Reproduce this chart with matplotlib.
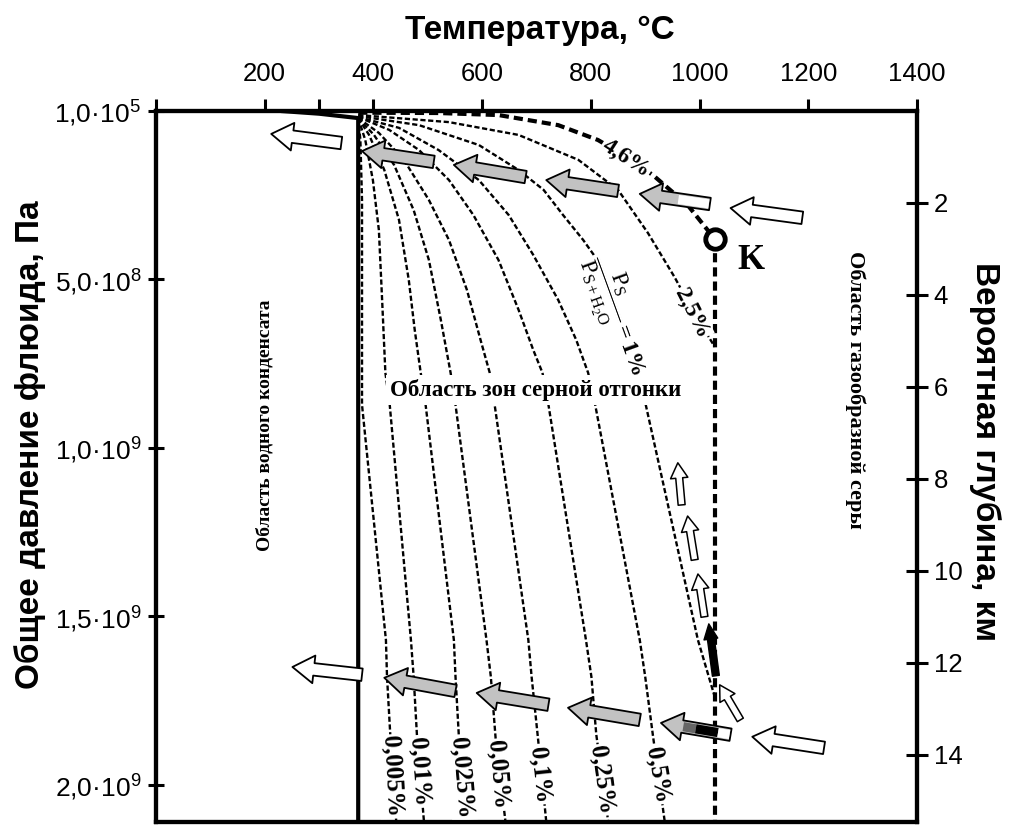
import matplotlib
matplotlib.use('Agg')
import matplotlib.pyplot as plt

plt.rcParams['font.family'] = ['Liberation Sans', 'DejaVu Sans']
plt.rcParams['mathtext.fontset'] = 'custom'
plt.rcParams['mathtext.rm'] = 'Liberation Serif'
plt.rcParams['mathtext.it'] = 'Liberation Serif:italic'
plt.rcParams['mathtext.bf'] = 'Liberation Serif:bold'

SERIF = ['Liberation Serif', 'DejaVu Serif']

# ---------------- data ----------------
P_MAX = 21.1            # pressure, units of 1e8 Pa (bottom edge)
KM_PER_P = 1.365        # 1 km of depth = 1.365e8 Pa on this chart

temp_ticks = [0, 200, 300, 400, 600, 800, 1000, 1200, 1400]
temp_labels = ['', '200', '', '400', '600', '800', '1000', '1200', '1400']
press_ticks = [0, 5, 10, 15, 20]
press_labels = [r'$\mathregular{1{,}0·10^{5}}$', r'$\mathregular{5{,}0·10^{8}}$',
                r'$\mathregular{1{,}0·10^{9}}$', r'$\mathregular{1{,}5·10^{9}}$',
                r'$\mathregular{2{,}0·10^{9}}$']
depth_ticks = [2, 4, 6, 8, 10, 12, 14]

water_T = [230, 300, 372, 372]
water_P = [0.0, 0.08, 0.21, 21.1]

c0005_T = [372, 376, 379, 379, 379, 423, 425, 431, 442]
c0005_P = [0.21, 0.86, 2.64, 5.61, 8.72, 15.70, 16.79, 18.51, 21.10]
c001_T = [372, 385, 399, 410, 416, 422, 430, 469, 474, 480, 493]
c001_P = [0.21, 0.86, 2.05, 3.53, 5.61, 7.77, 8.72, 15.70, 16.79, 18.51, 21.10]
c0025_T = [372, 392, 420, 447, 465, 476, 487, 496, 548, 551, 557, 570]
c0025_P = [0.21, 0.71, 1.75, 3.23, 5.01, 6.50, 7.77, 8.72, 15.70, 16.79, 18.51, 21.10]
c005_T = [372, 401, 438, 474, 502, 524, 542, 551, 608, 616, 625, 643]
c005_P = [0.21, 0.71, 1.60, 2.94, 4.42, 6.20, 7.77, 8.72, 15.70, 16.79, 18.66, 21.10]
c01_T = [372, 410, 456, 502, 539, 572, 597, 614, 623, 685, 691, 703, 718]
c01_P = [0.21, 0.65, 1.45, 2.64, 3.83, 5.31, 6.79, 7.77, 8.72, 15.70, 16.79, 18.66, 21.10]
c025_T = [372, 429, 484, 539, 584, 630, 667, 694, 711, 722, 791, 801, 810, 832]
c025_P = [0.18, 0.56, 1.16, 2.05, 3.09, 4.42, 5.90, 7.09, 7.77, 8.72, 15.70, 16.79, 18.51, 21.10]
c05_T = [372, 447, 520, 594, 649, 694, 740, 773, 795, 808, 890, 900, 914, 936]
c05_P = [0.18, 0.50, 1.16, 2.05, 3.09, 4.27, 5.61, 6.79, 7.77, 8.72, 15.70, 16.79, 18.51, 21.10]
c1_T = [372, 484, 594, 667, 713, 749, 786, 808, 850, 887, 901, 997, 1028]
c1_P = [0.15, 0.42, 1.01, 1.75, 2.34, 3.09, 3.83, 4.33, 6.0, 7.83, 8.72, 15.70, 17.39]
c25_T = [372, 539, 667, 777, 850, 905, 954, 990, 1028]
c25_P = [0.12, 0.33, 0.71, 1.45, 2.34, 3.62, 4.93, 6.0, 7.0]
c46_T = [372, 520, 630, 740, 813, 865, 914, 978, 1028]
c46_P = [0.05, 0.06, 0.12, 0.42, 0.86, 1.35, 1.90, 2.79, 3.80]

K_T, K_P = 1028, 3.80

bottom_labels = ['0,005%', '0,01%', '0,025%', '0,05%', '0,1%', '0,25%', '0,5%']
bottom_lab_T = [434, 485, 562, 630, 707, 821, 923]
bottom_lab_P = [19.75, 19.61, 19.80, 19.70, 19.70, 19.85, 19.70]
bottom_lab_rot = [-87, -86, -85, -85, -84, -82, -80]

# arrows: (tail_T, tail_P, tip_T, tip_P)
open_big = [(341, 0.95, 212, 0.68), (1189, 3.17, 1057, 2.88),
            (379, 16.73, 251, 16.50), (1229, 18.90, 1097, 18.57)]
open_small = [(967, 11.69, 960, 10.44), (991, 13.32, 978, 12.02),
              (1009, 15.01, 997, 13.74), (1075, 18.07, 1037, 17.03)]
black_arrow = (1030, 16.76, 1017, 15.22)
gray_arrows = [(511, 1.51, 379, 1.19), (680, 1.96, 548, 1.60), (850, 2.37, 718, 2.05),
               (1019, 2.76, 890, 2.46), (551, 17.21, 420, 16.82), (722, 17.62, 590, 17.27),
               (890, 18.07, 758, 17.71), (1057, 18.51, 929, 18.16)]

# ---------------- figure ----------------
W, H = 1009, 826
L, R, TOP, BOT = 156, 917, 111, 822
fig = plt.figure(figsize=(W / 100, H / 100), dpi=100)
ax = fig.add_axes([L / W, 1 - BOT / H, (R - L) / W, (BOT - TOP) / H])
ax.set_xlim(0, 1400)
ax.set_ylim(P_MAX, 0)
for s in ax.spines.values():
    s.set_linewidth(3)

ax.xaxis.set_ticks_position('top')
ax.set_xticks(temp_ticks)
ax.set_xticklabels(temp_labels)
ax.tick_params(axis='x', direction='out', length=9, width=2.2, labelsize=18.5, pad=9)
ax.set_yticks(press_ticks)
ax.set_yticklabels(press_labels)
ax.tick_params(axis='y', direction='inout', length=11.5, width=2.2, labelsize=19, pad=5)

ax2 = ax.twinx()
ax2.set_ylim(P_MAX / KM_PER_P, 0)
ax2.set_yticks(depth_ticks)
ax2.set_yticklabels([str(d) for d in depth_ticks])
ax2.tick_params(axis='y', direction='inout', length=16, width=2.2, labelsize=18.5, pad=4)
for s in ax2.spines.values():
    s.set_linewidth(3)

# water boundary
ax.plot(water_T, water_P, color='black', lw=3, solid_capstyle='butt', zorder=4)

thin = dict(color='black', lw=1.7, ls=(0, (2.2, 1.1)), zorder=3)
for cT, cP in [(c0005_T, c0005_P), (c001_T, c001_P), (c0025_T, c0025_P), (c005_T, c005_P),
               (c01_T, c01_P), (c025_T, c025_P), (c05_T, c05_P), (c1_T, c1_P), (c25_T, c25_P)]:
    ax.plot(cT, cP, **thin)

thick = dict(color='black', lw=3, ls=(0, (2.2, 1.2)), zorder=4)
ax.plot(c46_T, c46_P, **thick)
ax.plot([K_T, K_T], [K_P, P_MAX], **thick)
ax.plot([K_T], [K_P], marker='o', ms=14, mfc='white', mec='black', mew=3.5, zorder=8)

# labels on curves
bb = dict(facecolor='white', edgecolor='none', pad=1)
for lab, x, y, r in zip(bottom_labels, bottom_lab_T, bottom_lab_P, bottom_lab_rot):
    ax.text(x, y, lab, rotation=r, ha='center', va='center', fontsize=18,
            family=SERIF, weight='bold', bbox=bb, zorder=5, rotation_mode='anchor')
ax.text(865, 1.40, '4,6%', rotation=-33, ha='center', va='center', fontsize=17,
        family=SERIF, weight='bold', bbox=bb, zorder=5, rotation_mode='anchor')
ax.text(985, 6.0, '2,5%', rotation=-63, ha='center', va='center', fontsize=17,
        family=SERIF, weight='bold', bbox=bb, zorder=5, rotation_mode='anchor')
ax.text(846, 6.08, r'$\dfrac{\mathrm{P_S}}{\mathrm{P_{S+H_2O}}}\mathbf{=1\%}$', rotation=-70,
        ha='center', va='center', fontsize=17, bbox=bb, zorder=5, rotation_mode='anchor')
ax.text(1094, 4.45, 'K', ha='center', va='center', fontsize=25, family=SERIF,
        weight='bold', zorder=6)

ax.text(698, 8.28, 'Область зон серной отгонки', ha='center', va='center', fontsize=16.5,
        family=SERIF, weight='bold', zorder=6,
        bbox=dict(facecolor='white', edgecolor='none', pad=3))
ax.text(200, 9.32, 'Область водного конденсата', rotation=90, ha='center', va='center',
        fontsize=14, family=SERIF, weight='bold', zorder=6)
ax.text(1286, 8.28, 'Область газообразной серы', rotation=-90, ha='center', va='center',
        fontsize=16, family=SERIF, weight='bold', zorder=6)


# arrows
def block_arrow(a, fc, hw=2.0, hl=1.55, tw=0.9, lw=1.3, z=7):
    tT, tP, hT, hP = a
    ax.annotate('', xy=(hT, hP), xytext=(tT, tP), xycoords='data', textcoords='data',
                arrowprops=dict(arrowstyle=f'simple,head_length={hl},head_width={hw},tail_width={tw}',
                                fc=fc, ec='black', lw=lw, shrinkA=0, shrinkB=0, mutation_scale=10),
                zorder=z, annotation_clip=False)


def shaft_band(a, f0, f1, color, lw):
    tT, tP, hT, hP = a
    x0, y0 = hT + (tT - hT) * f0, hP + (tP - hP) * f0
    x1, y1 = hT + (tT - hT) * f1, hP + (tP - hP) * f1
    ax.plot([x0, x1], [y0, y1], color=color, lw=lw, solid_capstyle='butt', zorder=7.5)


for a in open_big:
    block_arrow(a, 'white')
for a in open_small:
    block_arrow(a, 'white', hw=1.25, hl=1.1, tw=0.5, lw=1.1)
block_arrow(black_arrow, 'black', hw=1.0, hl=1.1, tw=0.5, lw=1.0)
for i, a in enumerate(gray_arrows):
    block_arrow(a, '#c2c2c2')
    if i == 3:
        shaft_band(a, 0.55, 0.985, 'white', 6.6)
    if i == 7:
        shaft_band(a, 0.32, 0.5, '#666666', 6.6)
        shaft_band(a, 0.5, 0.82, 'black', 6.6)
        shaft_band(a, 0.82, 0.985, 'white', 6.6)

# axis titles
fig.text(540 / W, 1 - 30 / H, 'Температура, °C', ha='center', va='center', fontsize=24,
         weight='bold')
fig.text(30 / W, 1 - 445 / H, 'Общее давление флюида, Па', rotation=90, ha='center',
         va='center', fontsize=24, weight='bold')
fig.text(985 / W, 1 - 452 / H, 'Вероятная глубина, км', rotation=-90, ha='center',
         va='center', fontsize=24, weight='bold')

fig.savefig('out.png', dpi=100)
